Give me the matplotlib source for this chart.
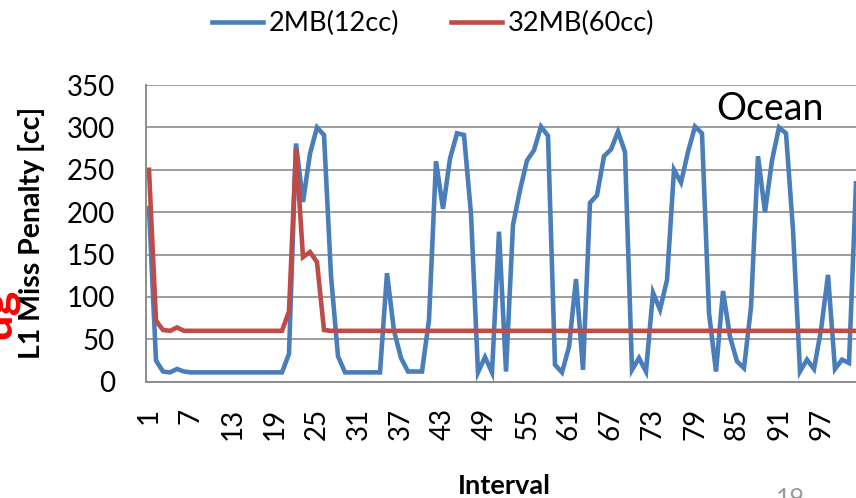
import matplotlib.pyplot as plt

# --- data ---
intervals = list(range(1, 103))

blue_2mb = [205, 25, 12, 11, 15, 12, 11, 11, 11, 11,
            11, 11, 11, 11, 11, 11, 11, 11, 11, 11,
            33, 281, 212, 269, 300, 291, 125, 30, 11, 11,
            11, 11, 11, 11, 128, 60, 28, 12, 12, 12,
            73, 260, 204, 263, 293, 291, 198, 11, 29, 11,
            177, 12, 185, 226, 261, 273, 301, 290, 20, 11,
            41, 121, 14, 211, 220, 266, 274, 295, 271, 14,
            28, 12, 105, 85, 120, 250, 235, 271, 301, 293,
            81, 12, 107, 53, 24, 16, 88, 266, 200, 261,
            300, 293, 179, 12, 26, 15, 61, 126, 15, 26,
            22, 234]

red_32mb = [250, 72, 61, 60, 64, 60] + [60] * 14 + [83, 275, 147, 153, 141, 61] + [60] * 76

series_names = ['2MB(12cc)', '32MB(60cc)']
yticks = [0, 50, 100, 150, 200, 250, 300, 350]
xticks = list(range(1, 103, 6))

blue = '#4a7ebb'
red = '#be4b48'
grid_gray = '#8c8c8c'

plt.rcParams['font.family'] = ['Lato', 'DejaVu Sans']

fig = plt.figure(figsize=(8.56, 4.98), dpi=100)
ax = fig.add_axes([145.5 / 856, 1 - 381.7 / 498, 714 / 856, 296.7 / 498])

ax.plot(intervals, blue_2mb, color=blue, lw=3.3, label=series_names[0], solid_joinstyle='miter')
ax.plot(intervals, red_32mb, color=red, lw=3.3, label=series_names[1], solid_joinstyle='miter')

ax.set_xlim(0.5, 102.5)
ax.set_ylim(0, 350)
ax.set_yticks(yticks)
ax.set_xticks(xticks)
ax.set_xticklabels([str(t) for t in xticks], rotation=90)
ax.tick_params(axis='both', length=0, labelsize=20)
ax.tick_params(axis='y', pad=22)
ax.tick_params(axis='x', pad=19)

ax.grid(axis='y', color=grid_gray, lw=1.2)
ax.set_axisbelow(True)
for s in ['top', 'right']:
    ax.spines[s].set_visible(False)
for s in ['left', 'bottom']:
    ax.spines[s].set_color(grid_gray)
    ax.spines[s].set_linewidth(1.4)

ax.set_ylabel('L1 Miss Penalty [cc]', fontsize=20.5, fontweight='bold')
ax.yaxis.set_label_coords(-0.141, 0.5)
ax.set_xlabel('Interval', fontsize=19.5, fontweight='bold')
ax.xaxis.set_label_coords(0.502, -0.31)

ax.text(0.874, 0.92, 'Ocean', transform=ax.transAxes, fontsize=27,
        ha='center', va='center')

fig.legend(loc='center', bbox_to_anchor=(0.506, 0.952), ncol=2, frameon=False,
           fontsize=19.5, handlelength=1.9, handletextpad=0.2, columnspacing=1.9)

# bits of the slide around the chart
fig.text(-0.030, 0.37, 'ug', color='red', fontsize=34, fontweight='bold',
         rotation=90, ha='left', va='center')
fig.text(0.923, 0.022, '19', color='#9a9a9a', fontsize=18, ha='center', va='top')

fig.savefig('out.png', dpi=100)
